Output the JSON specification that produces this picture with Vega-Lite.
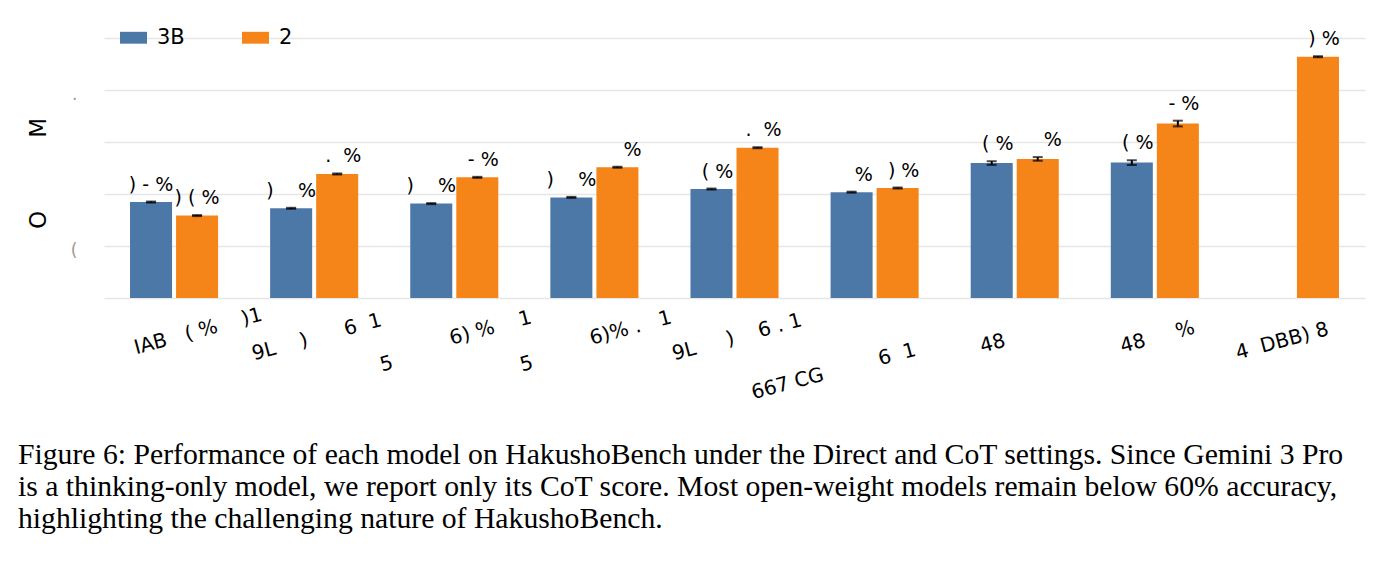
{
  "$schema": "https://vega.github.io/schema/vega-lite/v6.json",
  "width": 1261,
  "height": 260,
  "autosize": {"type": "none"},
  "padding": {"left": 104, "top": 38, "right": 30, "bottom": 263},
  "background": "white",
  "config": {"view": {"stroke": null}, "font": "DejaVu Sans"},
  "title": {
    "text": [
      "Figure 6: Performance of each model on HakushoBench under the Direct and CoT settings. Since Gemini 3 Pro",
      "is a thinking-only model, we report only its CoT score. Most open-weight models remain below 60% accuracy,",
      "highlighting the challenging nature of HakushoBench."
    ],
    "orient": "bottom",
    "anchor": "start",
    "frame": "group",
    "dx": -86,
    "offset": 32,
    "font": "Liberation Serif",
    "fontSize": 29.7,
    "fontWeight": "normal",
    "color": "black",
    "lineHeight": 32
  },
  "data": {
    "values": [
      {"model": "\u200b\u00a0\u00a0\u00a0\u00a0\u00a0\u00a0\u00a0IAB\u00a0\u00a0\u00a0(\u00a0%\u00a0\u00a0\u00a0\u00a0)1", "setting": "3B", "value": 36.9, "lo": 36.7, "hi": 37.1, "lbl": ")\u00a0-\u00a0%"},
      {"model": "\u200b\u00a0\u00a0\u00a0\u00a0\u00a0\u00a0\u00a0IAB\u00a0\u00a0\u00a0(\u00a0%\u00a0\u00a0\u00a0\u00a0)1", "setting": "2", "value": 31.7, "lo": 31.5, "hi": 31.9, "lbl": ")\u00a0(\u00a0%"},
      {"model": "9L\u00a0\u00a0\u00a0\u00a0)\u00a0\u00a0\u00a0\u00a0\u00a0\u00a06\u00a0\u00a01|\u200b|\u200b\u00a0\u00a0\u00a0\u00a0\u00a0\u00a0\u00a0\u00a0\u00a0\u00a0\u00a0\u00a0\u00a0\u00a0\u00a0\u00a0\u00a0\u00a0\u00a05", "setting": "3B", "value": 34.5, "lo": 34.3, "hi": 34.7, "lbl": ")\u00a0\u00a0\u00a0\u00a0%"},
      {"model": "9L\u00a0\u00a0\u00a0\u00a0)\u00a0\u00a0\u00a0\u00a0\u00a0\u00a06\u00a0\u00a01|\u200b|\u200b\u00a0\u00a0\u00a0\u00a0\u00a0\u00a0\u00a0\u00a0\u00a0\u00a0\u00a0\u00a0\u00a0\u00a0\u00a0\u00a0\u00a0\u00a0\u00a05", "setting": "2", "value": 47.7, "lo": 47.5, "hi": 47.9, "lbl": "\u200b\u00a0\u00a0.\u00a0\u00a0%"},
      {"model": "\u200b\u00a0\u00a0\u00a0\u00a0\u00a0\u00a0\u00a0\u00a0\u00a0\u00a0\u00a06)\u00a0%\u00a0\u00a0\u00a0\u00a01|\u200b|\u200b\u00a0\u00a0\u00a0\u00a0\u00a0\u00a0\u00a0\u00a0\u00a0\u00a0\u00a0\u00a0\u00a0\u00a0\u00a0\u00a0\u00a0\u00a0\u00a05", "setting": "3B", "value": 36.3, "lo": 36.1, "hi": 36.5, "lbl": ")\u00a0\u00a0\u00a0\u00a0%"},
      {"model": "\u200b\u00a0\u00a0\u00a0\u00a0\u00a0\u00a0\u00a0\u00a0\u00a0\u00a0\u00a06)\u00a0%\u00a0\u00a0\u00a0\u00a01|\u200b|\u200b\u00a0\u00a0\u00a0\u00a0\u00a0\u00a0\u00a0\u00a0\u00a0\u00a0\u00a0\u00a0\u00a0\u00a0\u00a0\u00a0\u00a0\u00a0\u00a05", "setting": "2", "value": 46.4, "lo": 46.2, "hi": 46.6, "lbl": "\u200b\u00a0\u00a0-\u00a0%"},
      {"model": "\u200b\u00a0\u00a0\u00a0\u00a0\u00a0\u00a0\u00a0\u00a0\u00a0\u00a0\u00a06)%\u00a0.\u00a0\u00a0\u00a01", "setting": "3B", "value": 38.7, "lo": 38.5, "hi": 38.9, "lbl": ")\u00a0\u00a0\u00a0\u00a0%"},
      {"model": "\u200b\u00a0\u00a0\u00a0\u00a0\u00a0\u00a0\u00a0\u00a0\u00a0\u00a0\u00a06)%\u00a0.\u00a0\u00a0\u00a01", "setting": "2", "value": 50.3, "lo": 50.1, "hi": 50.5, "lbl": "\u200b\u00a0\u00a0\u00a0\u00a0\u00a0%"},
      {"model": "9L\u00a0\u00a0\u00a0\u00a0\u00a0)\u00a0\u00a0\u00a0\u00a06\u00a0.\u00a01", "setting": "3B", "value": 41.9, "lo": 41.7, "hi": 42.1, "lbl": "\u200b\u00a0\u00a0(\u00a0%"},
      {"model": "9L\u00a0\u00a0\u00a0\u00a0\u00a0)\u00a0\u00a0\u00a0\u00a06\u00a0.\u00a01", "setting": "2", "value": 57.8, "lo": 57.6, "hi": 58.0, "lbl": "\u200b\u00a0\u00a0.\u00a0\u00a0%"},
      {"model": "\u200b|667\u00a0CG\u00a0\u00a0\u00a0\u00a0\u00a0\u00a0\u00a0\u00a0\u00a06\u00a0\u00a01\u00a0\u00a0\u00a0\u00a0\u00a0\u00a0\u00a0\u00a0\u00a0\u00a0\u00a0\u00a0\u00a0\u00a0\u00a0\u00a0\u200b", "setting": "3B", "value": 40.7, "lo": 40.5, "hi": 40.9, "lbl": "\u200b\u00a0\u00a0\u00a0\u00a0%"},
      {"model": "\u200b|667\u00a0CG\u00a0\u00a0\u00a0\u00a0\u00a0\u00a0\u00a0\u00a0\u00a06\u00a0\u00a01\u00a0\u00a0\u00a0\u00a0\u00a0\u00a0\u00a0\u00a0\u00a0\u00a0\u00a0\u00a0\u00a0\u00a0\u00a0\u00a0\u200b", "setting": "2", "value": 42.3, "lo": 42.1, "hi": 42.5, "lbl": "\u200b\u00a0\u00a0)\u00a0%"},
      {"model": "48\u00a0\u00a0\u00a0\u00a0\u00a0\u00a0\u00a0\u00a0\u200b", "setting": "3B", "value": 51.9, "lo": 51.2, "hi": 52.6, "lbl": "\u200b\u00a0\u00a0(\u00a0%"},
      {"model": "48\u00a0\u00a0\u00a0\u00a0\u00a0\u00a0\u00a0\u00a0\u200b", "setting": "2", "value": 53.5, "lo": 52.8, "hi": 54.2, "lbl": "\u200b\u00a0\u00a0\u00a0\u00a0\u00a0%"},
      {"model": "48\u00a0\u00a0\u00a0\u00a0\u00a0%", "setting": "3B", "value": 52.1, "lo": 51.2, "hi": 53.0, "lbl": "\u200b\u00a0\u00a0(\u00a0%"},
      {"model": "48\u00a0\u00a0\u00a0\u00a0\u00a0%", "setting": "2", "value": 67.1, "lo": 66.0, "hi": 68.2, "lbl": "\u200b\u00a0\u00a0-\u00a0%"},
      {"model": "4\u00a0\u00a0DBB)\u00a08\u00a0\u00a0\u00a0\u00a0\u00a0\u200b", "setting": "2", "value": 92.8, "lo": 92.6, "hi": 93.0, "lbl": "\u200b\u00a0\u00a0)\u00a0%"}
    ]
  },
  "encoding": {
    "x": {
      "field": "model",
      "type": "nominal",
      "sort": null,
      "scale": {"paddingInner": 0.3714, "paddingOuter": 0.1857},
      "axis": {
        "title": null,
        "domain": false,
        "ticks": false,
        "grid": false,
        "labelAngle": -15,
        "labelAlign": "center",
        "labelBaseline": "top",
        "labelFont": "DejaVu Sans",
        "labelFontSize": 20,
        "labelColor": "black",
        "labelPadding": 29,
        "labelLineHeight": 22,
        "labelLimit": 600,
        "labelOverlap": false,
        "labelFlush": false,
        "labelBound": false,
        "labelExpr": "split(datum.label, '|')"
      }
    },
    "xOffset": {
      "field": "setting",
      "type": "nominal",
      "sort": ["3B", "2"],
      "scale": {"paddingInner": 0.087, "paddingOuter": 0}
    }
  },
  "layer": [
    {
      "mark": {"type": "bar"},
      "encoding": {
        "y": {
          "field": "value",
          "type": "quantitative",
          "scale": {"domain": [0, 100]},
          "axis": {
            "values": [0, 20, 40, 60, 80, 100],
            "labelExpr": "datum.value == 20 ? '(' : (datum.value == 80 ? '.' : '')",
            "labelColor": "#999999",
            "labelFont": "DejaVu Sans",
            "labelFontSize": 17,
            "labelPadding": 27,
            "labelOffset": 4,
            "domain": false,
            "ticks": false,
            "grid": true,
            "gridColor": "#e6e6e6",
            "gridWidth": 1.5,
            "title": "O\u00a0\u00a0\u00a0\u00a0\u00a0\u00a0\u00a0\u00a0\u00a0\u00a0M",
            "titleFont": "DejaVu Sans",
            "titleFontSize": 23,
            "titleFontWeight": "normal",
            "titleColor": "black",
            "titleAngle": 270,
            "titleAlign": "center",
            "titleBaseline": "middle",
            "titleX": -66,
            "titleY": 135
          }
        },
        "color": {
          "field": "setting",
          "type": "nominal",
          "sort": ["3B", "2"],
          "scale": {"domain": ["3B", "2"], "range": ["#4c78a8", "#f58518"]},
          "legend": {
            "orient": "none",
            "legendX": 16,
            "legendY": -14,
            "direction": "horizontal",
            "title": null,
            "padding": 0,
            "symbolType": "M-1,-0.44L1,-0.44L1,0.44L-1,0.44Z",
            "symbolSize": 729,
            "symbolStrokeWidth": 0,
            "symbolOpacity": 1,
            "labelFont": "DejaVu Sans",
            "labelFontSize": 21,
            "labelColor": "black",
            "labelOffset": 10,
            "columnPadding": 57
          }
        }
      }
    },
    {
      "mark": {"type": "rule", "color": "black", "strokeWidth": 2},
      "encoding": {
        "y": {"field": "lo", "type": "quantitative"},
        "y2": {"field": "hi"}
      }
    },
    {
      "mark": {"type": "tick", "color": "black", "thickness": 2, "size": 10, "orient": "horizontal"},
      "encoding": {"y": {"field": "lo", "type": "quantitative"}}
    },
    {
      "mark": {"type": "tick", "color": "black", "thickness": 2, "size": 10, "orient": "horizontal"},
      "encoding": {"y": {"field": "hi", "type": "quantitative"}}
    },
    {
      "mark": {"type": "text", "font": "DejaVu Sans", "fontSize": 19, "color": "black", "align": "center", "baseline": "alphabetic", "dy": -11},
      "encoding": {
        "y": {"field": "hi", "type": "quantitative"},
        "text": {"field": "lbl"}
      }
    }
  ]
}
